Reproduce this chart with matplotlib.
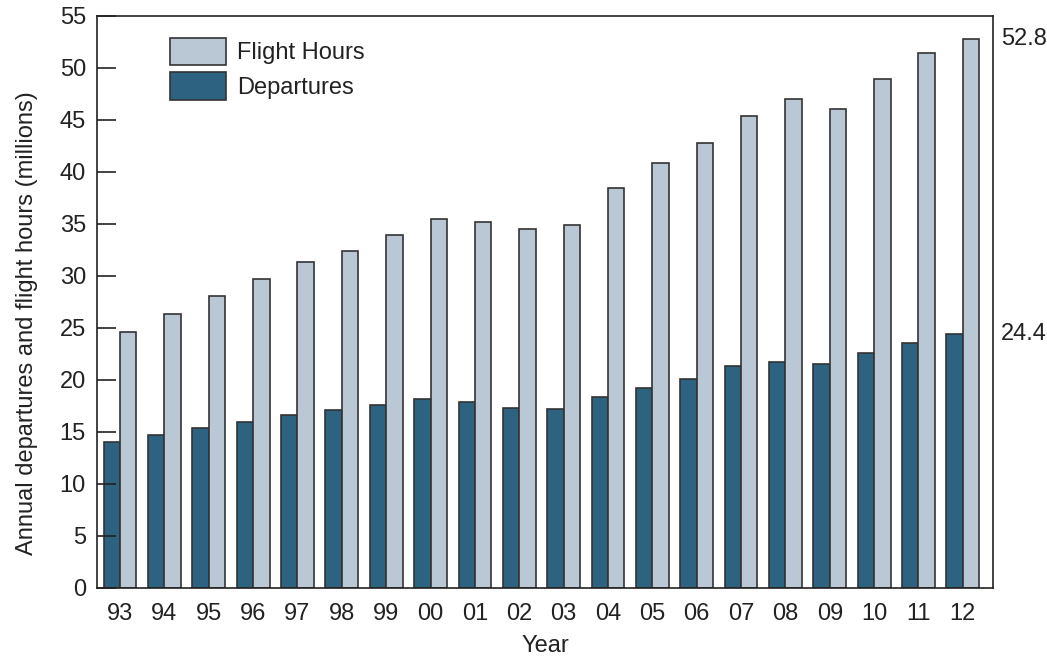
import matplotlib
matplotlib.use("Agg")
import matplotlib.pyplot as plt
import numpy as np

years = ["93", "94", "95", "96", "97", "98", "99", "00", "01", "02",
         "03", "04", "05", "06", "07", "08", "09", "10", "11", "12"]
flight_hours = [24.6, 26.3, 28.1, 29.7, 31.3, 32.4, 33.9, 35.5, 35.2, 34.5,
                34.9, 38.5, 40.9, 42.8, 45.4, 47.0, 46.1, 48.9, 51.4, 52.8]
departures = [14.0, 14.7, 15.4, 16.0, 16.6, 17.1, 17.6, 18.2, 17.9, 17.3,
              17.2, 18.4, 19.2, 20.1, 21.3, 21.7, 21.5, 22.6, 23.6, 24.4]
end_labels = ["52.8", "24.4"]

plt.rcParams['font.family'] = ['Liberation Sans', 'DejaVu Sans']
FS = 17
TC = '#222222'

fig = plt.figure(figsize=(10.47, 6.58), dpi=100)
ax = fig.add_axes([97/1047, 1 - 588/658, (993-97)/1047, (588-16)/658])

x = np.arange(len(years))
w = 0.37
dep_color = "#2d6280"
fh_color = "#bac8d6"
edge = "#333333"

ax.bar(x - w/2, departures, width=w, color=dep_color, edgecolor=edge, linewidth=1.2, label="Departures")
ax.bar(x + w/2, flight_hours, width=w, color=fh_color, edgecolor=edge, linewidth=1.2, label="Flight Hours")

ax.set_xlim(-0.52, len(years) - 1 + 0.68)
ax.set_ylim(0, 55)
ax.set_yticks(np.arange(0, 56, 5))
ax.set_xticks(x)
ax.set_xticklabels(years)
ax.tick_params(axis='y', direction='in', length=14, width=1.2, labelsize=FS, pad=8, colors=TC)
ax.tick_params(axis='x', length=0, labelsize=FS, pad=11, colors=TC)
for s in ax.spines.values():
    s.set_linewidth(1.2)
    s.set_color(TC)

ax.set_xlabel("Year", fontsize=FS, labelpad=7, color=TC)
ax.set_ylabel("Annual departures and flight hours (millions)", fontsize=FS, color=TC)
ax.yaxis.set_label_coords(-0.066, 0.463)

ax.text(1.009, flight_hours[-1], end_labels[0], transform=ax.get_yaxis_transform(),
        ha='left', va='center', fontsize=FS, color=TC)
ax.text(1.009, departures[-1], end_labels[1], transform=ax.get_yaxis_transform(),
        ha='left', va='center', fontsize=FS, color=TC)

handles, labels = ax.get_legend_handles_labels()
leg = ax.legend(handles[::-1], labels[::-1], loc='upper left',
                bbox_to_anchor=(170/1047, 1 - 38/658), bbox_transform=fig.transFigure,
                frameon=False, fontsize=FS, handlelength=2.37, handleheight=1.4,
                labelspacing=0.3, handletextpad=0.47, borderpad=0, borderaxespad=0)
for t in leg.get_texts():
    t.set_color(TC)

fig.savefig("out.png", dpi=100)
